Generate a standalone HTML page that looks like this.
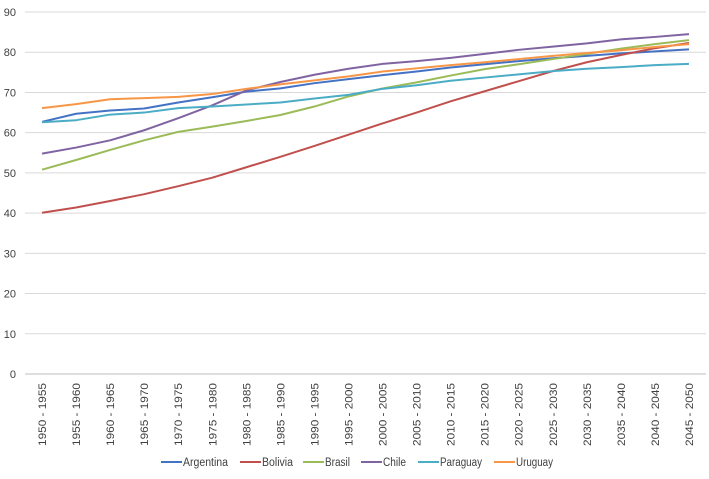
<!DOCTYPE html>
<html><head><meta charset="utf-8"><style>
body{margin:0;background:#fff;font-family:"Liberation Sans",sans-serif}
svg text{font-family:"Liberation Sans",sans-serif;fill:#404040}
</style></head><body>
<svg id="c" width="709" height="474"></svg>
<script>
const categories=["1950 - 1955","1955 - 1960","1960 - 1965","1965 - 1970","1970 - 1975","1975 - 1980","1980 - 1985","1985 - 1990","1990 - 1995","1995 - 2000","2000 - 2005","2005 - 2010","2010 - 2015","2015 - 2020","2020 - 2025","2025 - 2030","2030 - 2035","2035 - 2040","2040 - 2045","2045 - 2050"];
const yTicks=[0,10,20,30,40,50,60,70,80,90];
const seriesNames=["Argentina","Bolivia","Brasil","Chile","Paraguay","Uruguay"];
const argentina=[62.7,64.7,65.5,66.0,67.5,68.8,70.2,71.0,72.3,73.3,74.3,75.2,76.2,77.0,77.8,78.5,79.1,79.7,80.2,80.7];
const bolivia=[40.1,41.4,43.0,44.7,46.7,48.8,51.4,54.0,56.7,59.5,62.3,65.0,67.8,70.3,72.8,75.3,77.5,79.3,81.0,82.3];
const brasil=[50.8,53.2,55.7,58.1,60.2,61.5,62.9,64.4,66.5,69.0,71.0,72.5,74.2,75.8,77.0,78.3,79.6,80.9,82.0,83.0];
const chile=[54.8,56.3,58.1,60.6,63.6,66.8,70.5,72.6,74.4,75.9,77.1,77.8,78.6,79.6,80.6,81.4,82.2,83.2,83.8,84.5];
const paraguay=[62.6,63.1,64.5,65.0,66.1,66.5,67.0,67.5,68.5,69.4,70.9,71.8,72.9,73.7,74.5,75.3,75.9,76.3,76.8,77.1];
const uruguay=[66.1,67.1,68.3,68.6,68.9,69.6,70.9,72.0,73.0,74.0,75.2,76.0,76.8,77.5,78.3,79.1,79.8,80.5,81.3,82.0];
const seriesData=[argentina,bolivia,brasil,chile,paraguay,uruguay];
const colors=["#4472c4","#c0504d","#9bbb59","#8064a2","#4bacc6","#f79646"];
const NS="http://www.w3.org/2000/svg",svg=document.getElementById('c');
const L=25,R=706,T=12,B=374,yMax=90;
const step=(R-L)/categories.length;
const x=i=>L+step*(i+0.5);
const y=v=>B-(v/yMax)*(B-T);
function mk(t,a,p){const e=document.createElementNS(NS,t);for(const k in a)e.setAttribute(k,a[k]);(p||svg).appendChild(e);return e;}
yTicks.forEach(v=>{
 const g=mk('line',{x1:L,x2:R,y1:y(v),y2:y(v),stroke:v===0?'#bfbfbf':'#d9d9d9','stroke-width':1});
 
 
 const t=mk('text',{x:L-9,y:y(v)+4,'text-anchor':'end','font-size':11});t.textContent=v;
 
 
});
categories.forEach((c,i)=>{
 const t=mk('text',{transform:`translate(${x(i)+4},383) rotate(-90)`,'text-anchor':'end','font-size':11,textLength:63,lengthAdjust:'spacingAndGlyphs'});t.textContent=c;
 
 
});
seriesData.forEach((d,s)=>{
 const p=mk('polyline',{points:d.map((v,i)=>x(i)+','+y(v)).join(' '),fill:'none',stroke:colors[s],'stroke-width':2,'stroke-linejoin':'round'});
 
 
});
const lx=[161,240,303,361,418,494];
const tw=[45,31,25,23,42,37];
seriesNames.forEach((n,s)=>{
 const g=mk('g',{});
 
 
 mk('line',{x1:lx[s],x2:lx[s]+21,y1:462,y2:462,stroke:colors[s],'stroke-width':2},g);
 const t=mk('text',{x:lx[s]+22,y:466,'font-size':11.5,textLength:tw[s],lengthAdjust:'spacingAndGlyphs'},g);t.textContent=n;
});
</script>
</body></html>
